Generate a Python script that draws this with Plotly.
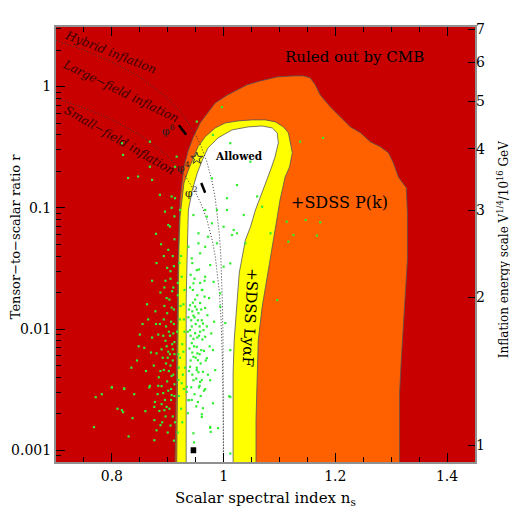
import numpy as np
import plotly.graph_objects as go

# ---- allowed-region boundaries (ns, r) ----
cmb_ns = [0.913, 0.915, 0.917, 0.919, 0.922, 0.926, 0.929, 0.937, 0.946, 0.958, 0.971, 0.985,
          1.007, 1.042, 1.066, 1.096, 1.125, 1.143, 1.155, 1.164, 1.173, 1.191, 1.209, 1.227,
          1.245, 1.263, 1.281, 1.295, 1.304, 1.313, 1.327, 1.329, 1.329, 1.325, 1.322, 1.318,
          1.315, 1.315, 1.315]
cmb_r = [0.0007, 0.00259, 0.0173, 0.0448, 0.116, 0.160, 0.217, 0.300, 0.385, 0.501, 0.607, 0.733,
         0.853, 1.033, 1.114, 1.202, 1.225, 1.225, 1.180, 1.033, 0.853, 0.679, 0.562, 0.465,
         0.415, 0.349, 0.318, 0.284, 0.234, 0.179, 0.146, 0.0906, 0.0371, 0.0198, 0.0104, 0.00553,
         0.00296, 0.00155, 0.0007]

pk_ns = [0.916, 0.917, 0.919, 0.920, 0.922, 0.926, 0.929, 0.937, 0.946, 0.954, 0.967, 0.985,
         1.003, 1.026, 1.051, 1.075, 1.093, 1.107, 1.116, 1.119, 1.123, 1.118, 1.110, 1.105,
         1.101, 1.096, 1.089, 1.078, 1.069, 1.062, 1.060, 1.058, 1.058]
pk_r = [0.0007, 0.00259, 0.0173, 0.0448, 0.0839, 0.116, 0.160, 0.205, 0.262, 0.318, 0.385, 0.456,
        0.501, 0.521, 0.531, 0.531, 0.511, 0.465, 0.415, 0.343, 0.284, 0.217, 0.179, 0.140,
        0.116, 0.0839, 0.0542, 0.0290, 0.0152, 0.00809, 0.00433, 0.00177, 0.0007]

lya_ns = [0.933, 0.933, 0.935, 0.937, 0.944, 0.953, 0.962, 0.972, 0.990, 1.015, 1.044, 1.069,
          1.087, 1.096, 1.098, 1.092, 1.084, 1.075, 1.066, 1.057, 1.048, 1.039, 1.028, 1.023,
          1.019, 1.017, 1.017]
lya_r = [0.0007, 0.0173, 0.0448, 0.0959, 0.140, 0.194, 0.248, 0.312, 0.377, 0.439, 0.465, 0.473,
         0.456, 0.415, 0.343, 0.262, 0.205, 0.160, 0.123, 0.0959, 0.0693, 0.0542, 0.0290, 0.0152,
         0.00809, 0.00433, 0.0007]

# ---- model-class boundaries (dotted) ----
hyb_ns = [0.70, 0.75, 0.80, 0.85, 0.90, 0.93, 0.95, 0.96, 0.97, 0.98, 0.985, 0.99, 0.9925,
          0.995, 0.997, 0.998, 0.999, 0.9995, 0.9999]
hyb_r = [2.4, 2.0, 1.6, 1.2, 0.8, 0.56, 0.4, 0.32, 0.24, 0.16, 0.12, 0.08, 0.06,
         0.04, 0.024, 0.016, 0.008, 0.004, 0.0008]
sf_ns = [0.70, 0.75, 0.80, 0.85, 0.90, 0.93, 0.95, 0.96, 0.97, 0.98, 0.985, 0.99, 0.9925,
         0.995, 0.997, 0.998, 0.999, 0.9995, 0.9997]
sf_r = [0.8, 0.667, 0.533, 0.4, 0.267, 0.187, 0.133, 0.107, 0.08, 0.053, 0.04, 0.027, 0.02,
        0.0133, 0.008, 0.0053, 0.0027, 0.0013, 0.0008]

# ---- model predictions ----
phi6_ns, phi6_r = [0.920, 0.933], [0.48, 0.40]
phi2_ns, phi2_r = [0.960, 0.967], [0.16, 0.133]
phi4_ns, phi4_r = [0.952], [0.256]
low_ns, low_r = [0.941, 0.951], [0.001, 0.001]

# ---- Monte Carlo inflation models (green dots) ----
dots_low = [(0.771, 0.00274), (0.782, 0.0029), (0.800, 0.0033), (0.822, 0.00324), (0.867, 0.0033),
            (0.889, 0.00338), (0.892, 0.00296), (0.907, 0.00285), (0.818, 0.00214), (0.820, 0.00206),
            (0.837, 0.00184), (0.768, 0.00155), (0.876, 0.00177), (0.887, 0.00161), (0.880, 0.00146),
            (0.876, 0.00121), (0.877, 0.0025), (0.876, 0.00228), (0.885, 0.00211), (0.894, 0.00214),
            (0.898, 0.00228), (0.925, 0.00357), (0.934, 0.00333), (0.938, 0.00259), (0.954, 0.0025),
            (0.956, 0.0033), (0.967, 0.00319), (0.936, 0.00202), (0.961, 0.00198), (0.976, 0.00153),
            (0.977, 0.00142), (0.947, 0.00116), (1.012, 0.00094), (1.010, 0.00279)]
dots_mid = [(0.940, 0.0157), (0.949, 0.0153), (0.958, 0.0164), (0.967, 0.0149), (0.946, 0.0129),
            (0.954, 0.0118), (0.963, 0.0111), (0.940, 0.0098), (0.949, 0.00925), (0.958, 0.0095),
            (0.967, 0.00863), (0.943, 0.00765), (0.952, 0.00713), (0.960, 0.0067), (0.981, 0.0067),
            (0.946, 0.0059), (0.954, 0.00553), (0.970, 0.00575), (0.940, 0.00488), (0.952, 0.00458),
            (0.963, 0.00444), (0.985, 0.00458), (0.946, 0.00378), (0.958, 0.00366), (0.976, 0.00378),
            (0.994, 0.0153), (1.003, 0.0112), (1.012, 0.0067), (0.937, 0.00259), (0.963, 0.00222),
            (0.981, 0.00244), (0.961, 0.00188), (0.946, 0.00138), (0.976, 0.00156), (0.990, 0.00152),
            (1.012, 0.00275), (0.934, 0.00303),
            (0.944, 0.014), (0.950, 0.011), (0.956, 0.0088), (0.947, 0.0072), (0.953, 0.0063),
            (0.941, 0.0055), (0.959, 0.0052), (0.962, 0.0082), (0.944, 0.0042), (0.951, 0.0039),
            (0.957, 0.0034), (0.948, 0.0029), (0.965, 0.0031), (0.939, 0.0069), (0.943, 0.0105),
            (0.955, 0.0135), (0.961, 0.0118), (0.949, 0.0175), (0.945, 0.021), (0.958, 0.024),
            (0.941, 0.028), (0.966, 0.0185), (0.970, 0.0105), (0.972, 0.0042), (0.937, 0.0125),
            (0.952, 0.0048), (0.946, 0.0083),
            (0.938, 0.0145), (0.945, 0.0165), (0.952, 0.0145), (0.960, 0.0145), (0.942, 0.0118),
            (0.948, 0.0125), (0.957, 0.0105), (0.964, 0.0098), (0.941, 0.0088), (0.953, 0.0085),
            (0.944, 0.0064), (0.950, 0.0058), (0.957, 0.0062), (0.965, 0.0066), (0.938, 0.0045),
            (0.955, 0.0044), (0.961, 0.0038), (0.942, 0.0033), (0.968, 0.0055), (0.975, 0.0072),
            (0.971, 0.013), (0.953, 0.019), (0.962, 0.021), (0.940, 0.022), (0.948, 0.026),
            (0.956, 0.031), (0.944, 0.035), (0.966, 0.025), (0.974, 0.018), (0.936, 0.0095),
            (0.978, 0.0092), (0.983, 0.0115), (0.951, 0.0023), (0.943, 0.0026), (0.959, 0.0028)]
dots_high = [(0.818, 0.341), (0.820, 0.273), (0.868, 0.351), (0.868, 0.218), (0.829, 0.176),
             (0.847, 0.181), (0.872, 0.170), (0.886, 0.128), (0.895, 0.093), (0.952, 0.514),
             (0.997, 0.676), (0.916, 0.264), (0.913, 0.218), (0.981, 0.399), (1.137, 0.351),
             (1.178, 0.377), (1.113, 0.0768), (1.125, 0.0596), (1.173, 0.0759), (1.147, 0.0793),
             (1.167, 0.0589), (1.084, 0.0616), (1.096, 0.0173), (1.116, 0.0525), (1.012, 0.341),
             (1.048, 0.240), (1.024, 0.154), (1.036, 0.0872), (1.006, 0.120), (1.024, 0.0616),
             (0.988, 0.096), (0.967, 0.096), (0.979, 0.0745), (0.955, 0.0616), (0.972, 0.0577),
             (0.946, 0.0872), (1.000, 0.0698), (1.015, 0.0596), (1.060, 0.124), (1.069, 0.102),
             (1.039, 0.0509), (0.967, 0.0477), (0.955, 0.0509), (0.937, 0.0477), (0.922, 0.096),
             (0.901, 0.0721), (0.907, 0.124), (0.979, 0.175), (1.018, 0.0656), (0.970, 0.0845),
             (0.988, 0.0509), (0.958, 0.0421), (0.976, 0.0337), (1.000, 0.0327), (0.943, 0.0383),
             (0.952, 0.0306), (0.967, 0.027), (0.982, 0.0245), (0.946, 0.0238), (0.961, 0.0210),
             (0.994, 0.0197), (1.006, 0.096), (1.012, 0.0348)]
dots_red = [(0.905, 0.030), (0.910, 0.022), (0.898, 0.018), (0.907, 0.015), (0.893, 0.012),
            (0.911, 0.011), (0.902, 0.0095), (0.896, 0.008), (0.908, 0.0075), (0.889, 0.0068),
            (0.912, 0.0062), (0.900, 0.0058), (0.905, 0.005), (0.893, 0.0046), (0.910, 0.0042),
            (0.884, 0.004), (0.899, 0.0037), (0.906, 0.0032), (0.912, 0.0028), (0.895, 0.0026),
            (0.903, 0.0022), (0.909, 0.0019), (0.890, 0.0017), (0.900, 0.0014), (0.911, 0.0012),
            (0.880, 0.0063), (0.872, 0.0085), (0.886, 0.011), (0.878, 0.014), (0.896, 0.025),
            (0.909, 0.040), (0.901, 0.045), (0.912, 0.055), (0.904, 0.07), (0.912, 0.085),
            (0.907, 0.10), (0.913, 0.12), (0.887, 0.02), (0.875, 0.005), (0.868, 0.0034),
            (0.861, 0.0045), (0.882, 0.0029), (0.858, 0.007), (0.865, 0.012), (0.850, 0.009),
            (0.845, 0.0055),
            (0.897, 0.0105), (0.904, 0.0088), (0.909, 0.0068), (0.901, 0.0065), (0.906, 0.0115),
            (0.899, 0.0135), (0.911, 0.0145), (0.903, 0.0175), (0.908, 0.0205), (0.894, 0.0155),
            (0.912, 0.0035), (0.907, 0.0041), (0.902, 0.0045), (0.897, 0.0052), (0.891, 0.0058),
            (0.909, 0.0055), (0.904, 0.0062), (0.898, 0.0072), (0.892, 0.0088), (0.910, 0.0092),
            (0.906, 0.0026), (0.901, 0.0031), (0.913, 0.0017), (0.905, 0.0016), (0.896, 0.0019),
            (0.889, 0.0024), (0.883, 0.0034), (0.887, 0.0045), (0.905, 0.026), (0.899, 0.032),
            (0.911, 0.033), (0.894, 0.022), (0.883, 0.009), (0.879, 0.011), (0.870, 0.0064),
            (0.912, 0.0078),
            (0.800, 0.0033), (0.822, 0.0032), (0.835, 0.0048), (0.848, 0.0072), (0.855, 0.011),
            (0.840, 0.0029), (0.810, 0.0022), (0.860, 0.0021), (0.830, 0.0013), (0.863, 0.016),
            (0.872, 0.025), (0.880, 0.035), (0.888, 0.05), (0.879, 0.061), (0.893, 0.04)]
dots_yellow = [(0.918, 0.019), (0.922, 0.012), (0.926, 0.0075), (0.920, 0.0048), (0.929, 0.0032),
               (0.924, 0.0022), (0.918, 0.0014), (0.928, 0.016), (0.925, 0.027), (0.919, 0.0062),
               (0.930, 0.0095), (0.921, 0.035), (0.927, 0.0042), (0.923, 0.0155), (0.917, 0.0095),
               (0.928, 0.0065), (0.931, 0.0048), (0.920, 0.0028), (0.926, 0.0017), (0.930, 0.021),
               (0.922, 0.0058), (0.918, 0.024), (0.929, 0.012), (0.924, 0.04), (0.919, 0.0038)]

# ---- labels ----
v_ticks = [1, 2, 3, 4, 5, 6, 7]
r_ticks = [0.001, 0.01, 0.1, 1]
r_ticktext = ['0.001', '0.01', '0.1', '1']
ns_ticks = [0.8, 1.0, 1.2, 1.4]
ns_ticktext = ['0.8', '1', '1.2', '1.4']

FONT = 'DejaVu Serif'
RED, ORANGE, YELLOW = '#c80000', '#ff6000', '#ffff00'

fig = go.Figure()

# filled regions: orange = allowed by CMB, yellow = +P(k), white = +Lya
for ns, r, col in [(cmb_ns, cmb_r, ORANGE), (pk_ns, pk_r, YELLOW), (lya_ns, lya_r, 'white')]:
    fig.add_trace(go.Scatter(x=ns, y=r, mode='lines', fill='toself', fillcolor=col,
                             line=dict(color='#555555', width=0.8), hoverinfo='skip'))

for ns, r in [(hyb_ns, hyb_r), (sf_ns, sf_r)]:
    fig.add_trace(go.Scatter(x=ns, y=r, mode='lines',
                             line=dict(color='#3a3a3a', width=1, dash='1px,2px'), hoverinfo='skip'))

dots = dots_low + dots_mid + dots_high + dots_red + dots_yellow
fig.add_trace(go.Scatter(x=[d[0] for d in dots], y=[d[1] for d in dots], mode='markers',
                         marker=dict(symbol='square', size=2.2, color='#33ee33'), hoverinfo='skip'))

# phi^p predictions
for ns, r in [(phi6_ns, phi6_r), (phi2_ns, phi2_r)]:
    fig.add_trace(go.Scatter(x=ns, y=r, mode='lines', line=dict(color='black', width=2.5)))
fig.add_trace(go.Scatter(x=low_ns, y=low_r, mode='lines', line=dict(color='black', width=6)))
fig.add_trace(go.Scatter(x=phi4_ns, y=phi4_r, mode='markers',
                         marker=dict(symbol='star-open', size=9, color='#333333', line=dict(width=1))))

# dummy trace so the right-hand axis gets drawn
fig.add_trace(go.Scatter(x=[1.0], y=[2.0], yaxis='y2', mode='markers',
                         marker=dict(opacity=0), hoverinfo='skip'))

labels = [
    ('Ruled out by CMB', 1.234, 1.77, 0, 15, 'black'),
    ('+SDSS P(k)', 1.207, 0.1096, 0, 16, 'black'),
    ('+SDSS LyαF', 1.047, 0.0123, 93, 15, 'black'),
    ('<b>Allowed</b>', 1.028, 0.268, 0, 10.5, 'black'),
    ('<i>Hybrid inflation</i>', 0.797, 1.935, 21.5, 12, '#3a0000'),
    ('<i>Large−field inflation</i>', 0.815, 0.922, 26, 12, '#3a0000'),
    ('<i>Small−field inflation</i>', 0.813, 0.363, 30, 12, '#3a0000'),
    ('φ<sup>6</sup>', 0.9007, 0.438, 0, 11, '#222222'),
    ('φ<sup>4</sup>', 0.929, 0.217, 0, 11, '#222222'),
    ('φ<sup>2</sup>', 0.942, 0.135, 0, 11, '#222222'),
]
for txt, x, y, ang, size, col in labels:
    fig.add_annotation(x=x, y=np.log10(y), xref='x', yref='y', text=txt, textangle=ang,
                       xanchor='center', yanchor='middle',
                       showarrow=False, font=dict(family=FONT, size=size, color=col))

# axis titles
titles = [
    ('Scalar spectral index n<sub>s</sub>', 0.501, -0.083, 0, 15),
    ('Tensor−to−scalar ratio r', -0.0967, 0.52, -90, 13),
    ('Inflation energy scale V<sup>1/4</sup>/10<sup>16</sup> GeV', 1.067, 0.487, -90, 12),
]
for txt, x, y, ang, size in titles:
    fig.add_annotation(x=x, y=y, xref='paper', yref='paper', showarrow=False, textangle=ang,
                       xanchor='center', yanchor='middle', text=txt,
                       font=dict(family=FONT, size=size, color='black'))

axis_common = dict(showgrid=False, zeroline=False, ticks='inside', tickcolor='black',
                   tickfont=dict(family=FONT, size=14, color='black'))

# the page body adds an 8px offset, so margins are shifted to keep the plot box in place
fig.update_layout(
    width=518, height=518,
    margin=dict(l=48, r=51, t=19, b=64, autoexpand=False),
    plot_bgcolor=RED, paper_bgcolor='white',
    showlegend=False,
    font=dict(family=FONT, color='black'),
    xaxis=dict(range=[0.7, 1.45], tickvals=ns_ticks, ticktext=ns_ticktext, ticklen=9,
               showline=True, mirror='ticks', linecolor='#909090', linewidth=2,
               minor=dict(dtick=0.05, ticklen=5, ticks='inside', tickcolor='black'),
               **axis_common),
    yaxis=dict(type='log', range=[np.log10(0.0008), np.log10(3.1)], tickvals=r_ticks,
               ticktext=r_ticktext, ticklen=9, showline=True, mirror=True,
               linecolor='#909090', linewidth=2,
               minor=dict(dtick='D1', ticklen=5, ticks='inside', tickcolor='black'),
               **axis_common),
    yaxis2=dict(type='log', overlaying='y', side='right', range=[-0.0339, 0.8492],
                tickvals=v_ticks, ticktext=[str(v) for v in v_ticks], ticklen=7,
                showline=False, **axis_common),
)

fig.write_html("out.html")
